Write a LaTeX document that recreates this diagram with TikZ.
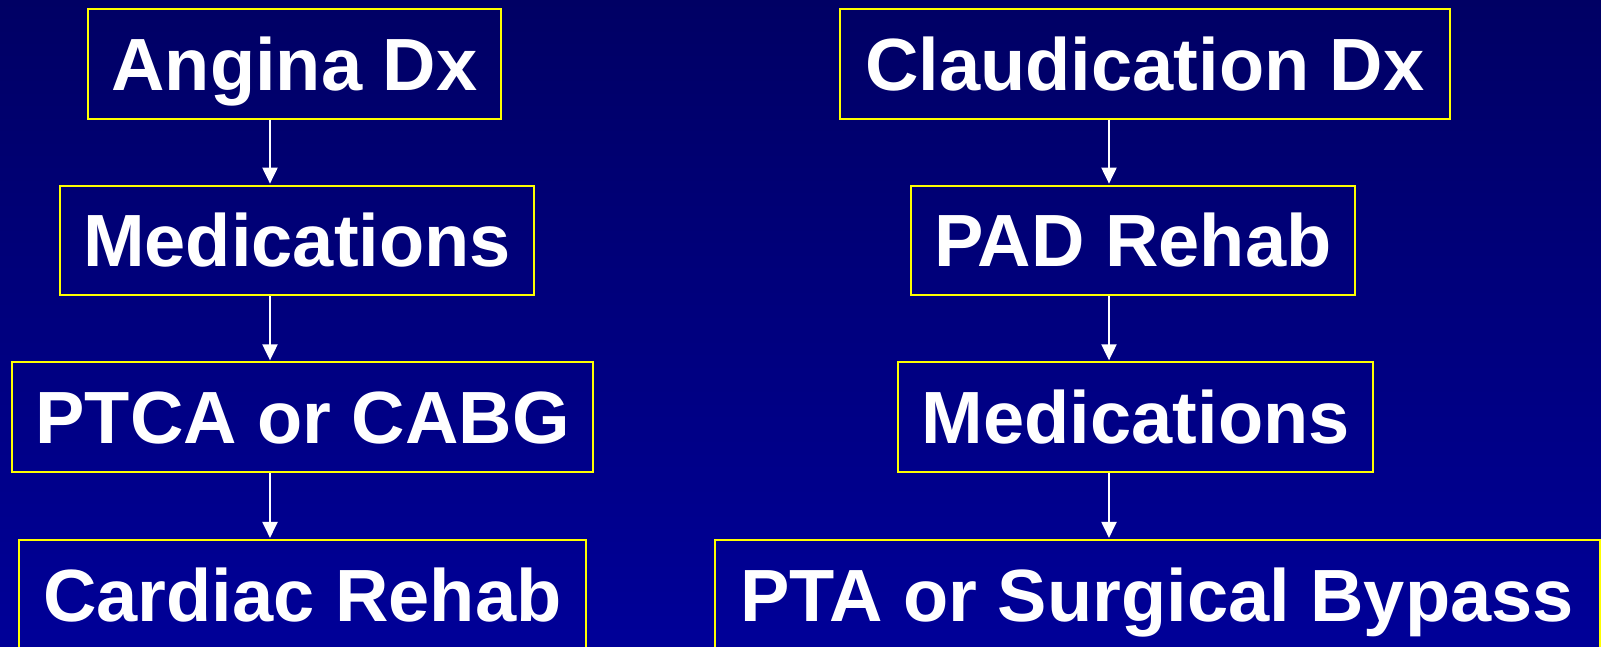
\documentclass[tikz,border=0pt]{standalone}
\usepackage{fontspec}
\setmainfont{Liberation Sans}
\usetikzlibrary{arrows.meta}
\definecolor{bgtop}{RGB}{0,0,100}
\definecolor{bgbot}{RGB}{0,0,152}
\definecolor{boxline}{RGB}{255,255,0}
\begin{document}
\begin{tikzpicture}[x=1pt,y=-1pt,
  flowbox/.style={draw=boxline, line width=2pt, inner sep=0pt,
    minimum height=109.5pt, text=white, text height=53pt, text depth=0pt,
    font=\fontsize{74pt}{80pt}\selectfont\bfseries},
  flowarrow/.style={draw=white, line width=2pt,
    -{Triangle[width=15pt,length=16pt]}, shorten >=1pt}]
  % canvas and background gradient
  \clip (0,0) rectangle (1601,647);
  \shade[top color=bgtop, bottom color=bgbot] (0,0) rectangle (1601,647);

  % left column: angina pathway
  \node[flowbox, minimum width=413pt] (L1) at (294.5,63.8) {Angina Dx};
  \node[flowbox, minimum width=474pt] (L2) at (297,240.4) {Medications};
  \node[flowbox, minimum width=581pt] (L3) at (302.7,417.1) {PTCA or CABG};
  \node[flowbox, minimum width=567pt] (L4) at (302.5,594.7) {Cardiac Rehab};

  % right column: claudication pathway
  \node[flowbox, minimum width=610pt] (R1) at (1145,63.8) {Claudication Dx};
  \node[flowbox, minimum width=444pt] (R2) at (1132.8,240.4) {PAD Rehab};
  \node[flowbox, minimum width=475pt] (R3) at (1135.8,417.1) {Medications};
  \node[flowbox, minimum width=885pt] (R4) at (1157,594.7) {PTA or Surgical Bypass};

  % arrow axes
  \coordinate (axL) at (270,0);
  \coordinate (axR) at (1109,0);

  \draw[flowarrow] (L1.south -| axL) -- (L2.north -| axL);
  \draw[flowarrow] (L2.south -| axL) -- (L3.north -| axL);
  \draw[flowarrow] (L3.south -| axL) -- (L4.north -| axL);
  \draw[flowarrow] (R1.south -| axR) -- (R2.north -| axR);
  \draw[flowarrow] (R2.south -| axR) -- (R3.north -| axR);
  \draw[flowarrow] (R3.south -| axR) -- (R4.north -| axR);
\end{tikzpicture}
\end{document}
